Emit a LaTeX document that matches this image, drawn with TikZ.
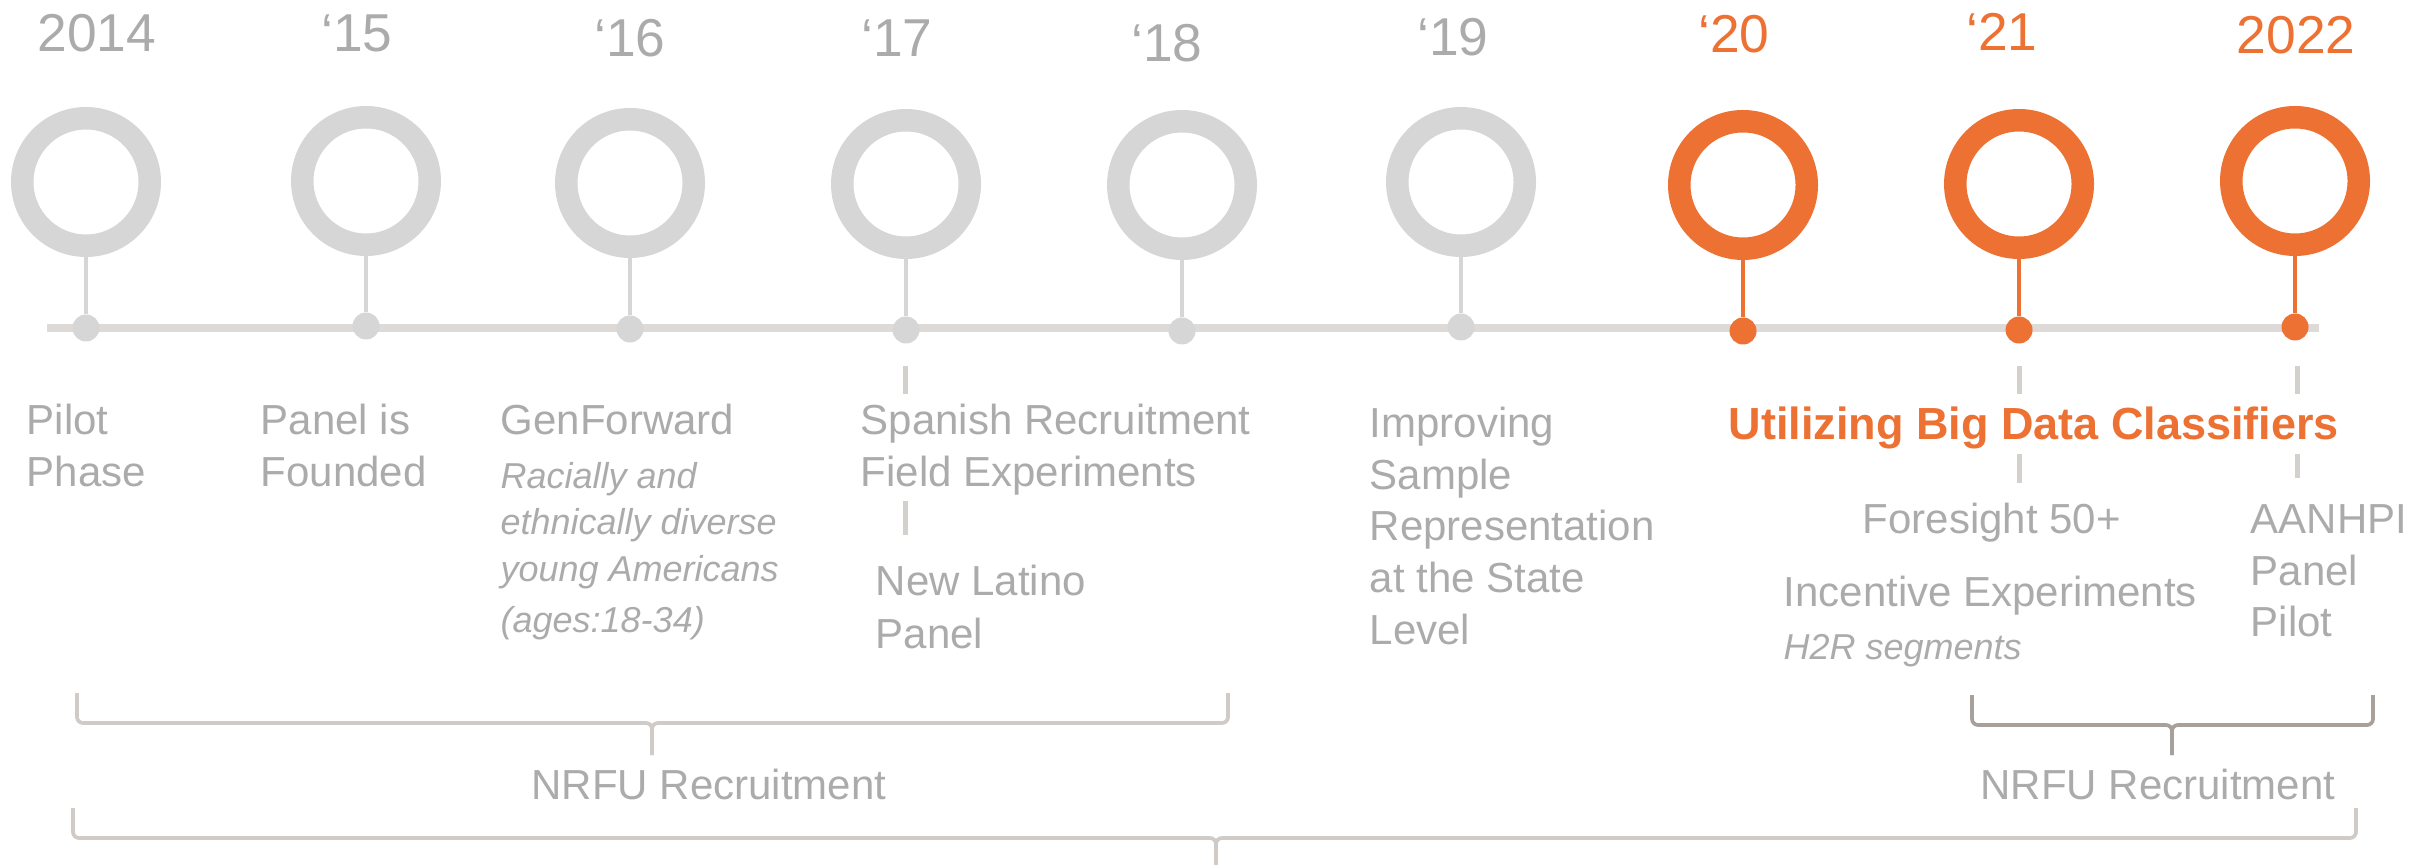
\documentclass[tikz,border=0pt]{standalone}
\usepackage{fontspec}
\setmainfont{Liberation Sans}
\definecolor{tgray}{RGB}{171,171,171}
\definecolor{cgray}{RGB}{214,214,214}
\definecolor{lgray}{RGB}{221,218,215}
\definecolor{org}{RGB}{237,113,50}
\definecolor{brc}{RGB}{208,203,199}
\definecolor{brd}{RGB}{168,160,154}
\definecolor{dsh}{RGB}{212,208,204}
\begin{document}
\begin{tikzpicture}[x=0.3pt,y=-0.3pt,
 ring/.style={circle,draw=cgray,line width=6.75pt,minimum size=38.25pt,inner sep=0pt},
 ringo/.style={ring,draw=org},
 dot/.style={circle,fill=cgray,minimum size=8.1pt,inner sep=0pt},
 doto/.style={dot,fill=org},
 stem/.style={draw=cgray,line width=1.2pt},
 stemo/.style={stem,draw=org},
 yr/.style={font=\fontsize{16}{19}\selectfont,text=tgray,inner sep=0pt,anchor=base},
 yro/.style={yr,text=org},
 lbl/.style={font=\fontsize{12.6}{15}\selectfont,text=tgray,inner sep=0pt,anchor=base west},
 ital/.style={font=\fontsize{10.8}{13}\selectfont\itshape,text=tgray,inner sep=0pt,anchor=base west},
 hl/.style={font=\fontsize{13.5}{16}\selectfont\bfseries,text=org,inner sep=0pt,anchor=base west},
 dashseg/.style={draw=dsh,line width=1.5pt},
 bracel/.style={draw=brc,line width=1.1pt,rounded corners=1.8pt},
 braced/.style={bracel,draw=brd},
]
\useasboundingbox (0,0) rectangle (2422,865);

% timeline
\coordinate (tlA) at (47,328);
\coordinate (tlB) at (2319,328);
\draw[lgray,line width=2.5pt] (tlA) -- (tlB);

% circles, dots, stems
\foreach \x/\cy/\dy/\n/\s in {86/182/328/a/{},366/181/326/b/{},630/183/329/c/{},906/184/330/d/{},1182/185/331/e/{},1461/182/327/f/{},1743/185/331/g/o,2019/184/330/h/o,2295/181/327/i/o}{
  \node[ring\s] (c\n) at (\x,\cy) {};
  \node[dot\s] (d\n) at (\x,\dy) {};
  \draw[stem\s] (c\n.south) -- (d\n.north);
}

% years
\node[yr] (y14) at (97,52) {2014};
\node[yr] (y15) at (357,52) {‘15};
\node[yr] (y16) at (630,57) {‘16};
\node[yr] (y17) at (897,57) {‘17};
\node[yr] (y18) at (1167,62) {‘18};
\node[yr] (y19) at (1453,56) {‘19};
\node[yro] (y20) at (1734,53) {‘20};
\node[yro] (y21) at (2002,51) {‘21};
\node[yro] (y22) at (2296,54) {2022};

% dashed segments
\coordinate (s1a) at (905,366); \coordinate (s1b) at (905,394);
\coordinate (s2a) at (905,501); \coordinate (s2b) at (905,535);
\coordinate (s3a) at (2019,366); \coordinate (s3b) at (2019,394);
\coordinate (s4a) at (2019,454); \coordinate (s4b) at (2019,483);
\coordinate (s5a) at (2297,366); \coordinate (s5b) at (2297,394);
\coordinate (s6a) at (2297,454); \coordinate (s6b) at (2297,478);
\draw[dashseg] (s1a) -- (s1b);
\draw[dashseg] (s2a) -- (s2b);
\draw[dashseg] (s3a) -- (s3b);
\draw[dashseg] (s4a) -- (s4b);
\draw[dashseg] (s5a) -- (s5b);
\draw[dashseg] (s6a) -- (s6b);

% labels
\node[lbl] (pilot1) at (26,435) {Pilot};
\node[lbl] (pilot2) at (26,487) {Phase};
\node[lbl] (panel1) at (260,435) {Panel is};
\node[lbl] (panel2) at (260,487) {Founded};
\node[lbl] (gen1) at (500,435) {GenForward};
\node[ital] (gen2) at (500,489) {Racially and};
\node[ital] (gen3) at (500,535) {ethnically diverse};
\node[ital] (gen4) at (500,581) {young Americans};
\node[ital] (gen5) at (500,632) {(ages:18-34)};
\node[lbl] (span1) at (860,435) {Spanish Recruitment};
\node[lbl] (span2) at (860,487) {Field Experiments};
\node[lbl] (lat1) at (875,596) {New Latino};
\node[lbl] (lat2) at (875,648) {Panel};
\node[lbl] (imp1) at (1369,438) {Improving};
\node[lbl] (imp2) at (1369,490) {Sample};
\node[lbl] (imp3) at (1369,541) {Representation};
\node[lbl] (imp4) at (1369,592) {at the State};
\node[lbl] (imp5) at (1369,644) {Level};
\node[hl] (big) at (1728,440) {Utilizing Big Data Classifiers};
\node[lbl] (fore) at (1862,534) {Foresight 50+};
\node[lbl] (inc) at (1783,606) {Incentive Experiments};
\node[ital] (h2r) at (1783,659) {H2R segments};
\node[lbl] (aan1) at (2250,534) {AANHPI};
\node[lbl] (aan2) at (2250,586) {Panel};
\node[lbl] (aan3) at (2250,637) {Pilot};

% braces
\draw[bracel] (77,693) |- (652,723) -- (652,755);
\draw[bracel] (1228,693) |- (652,723) -- (652,755);
\draw[bracel] (73,808) |- (1216,838) -- (1216,866);
\draw[bracel] (2356,808) |- (1216,838) -- (1216,866);
\draw[braced] (1972,695) |- (2172,725) -- (2172,755);
\draw[braced] (2373,695) |- (2172,725) -- (2172,755);

\node[lbl,anchor=base] (nrfu1) at (709,799) {NRFU Recruitment};
\node[lbl,anchor=base] (nrfu2) at (2158,799) {NRFU Recruitment};
\end{tikzpicture}
\end{document}
